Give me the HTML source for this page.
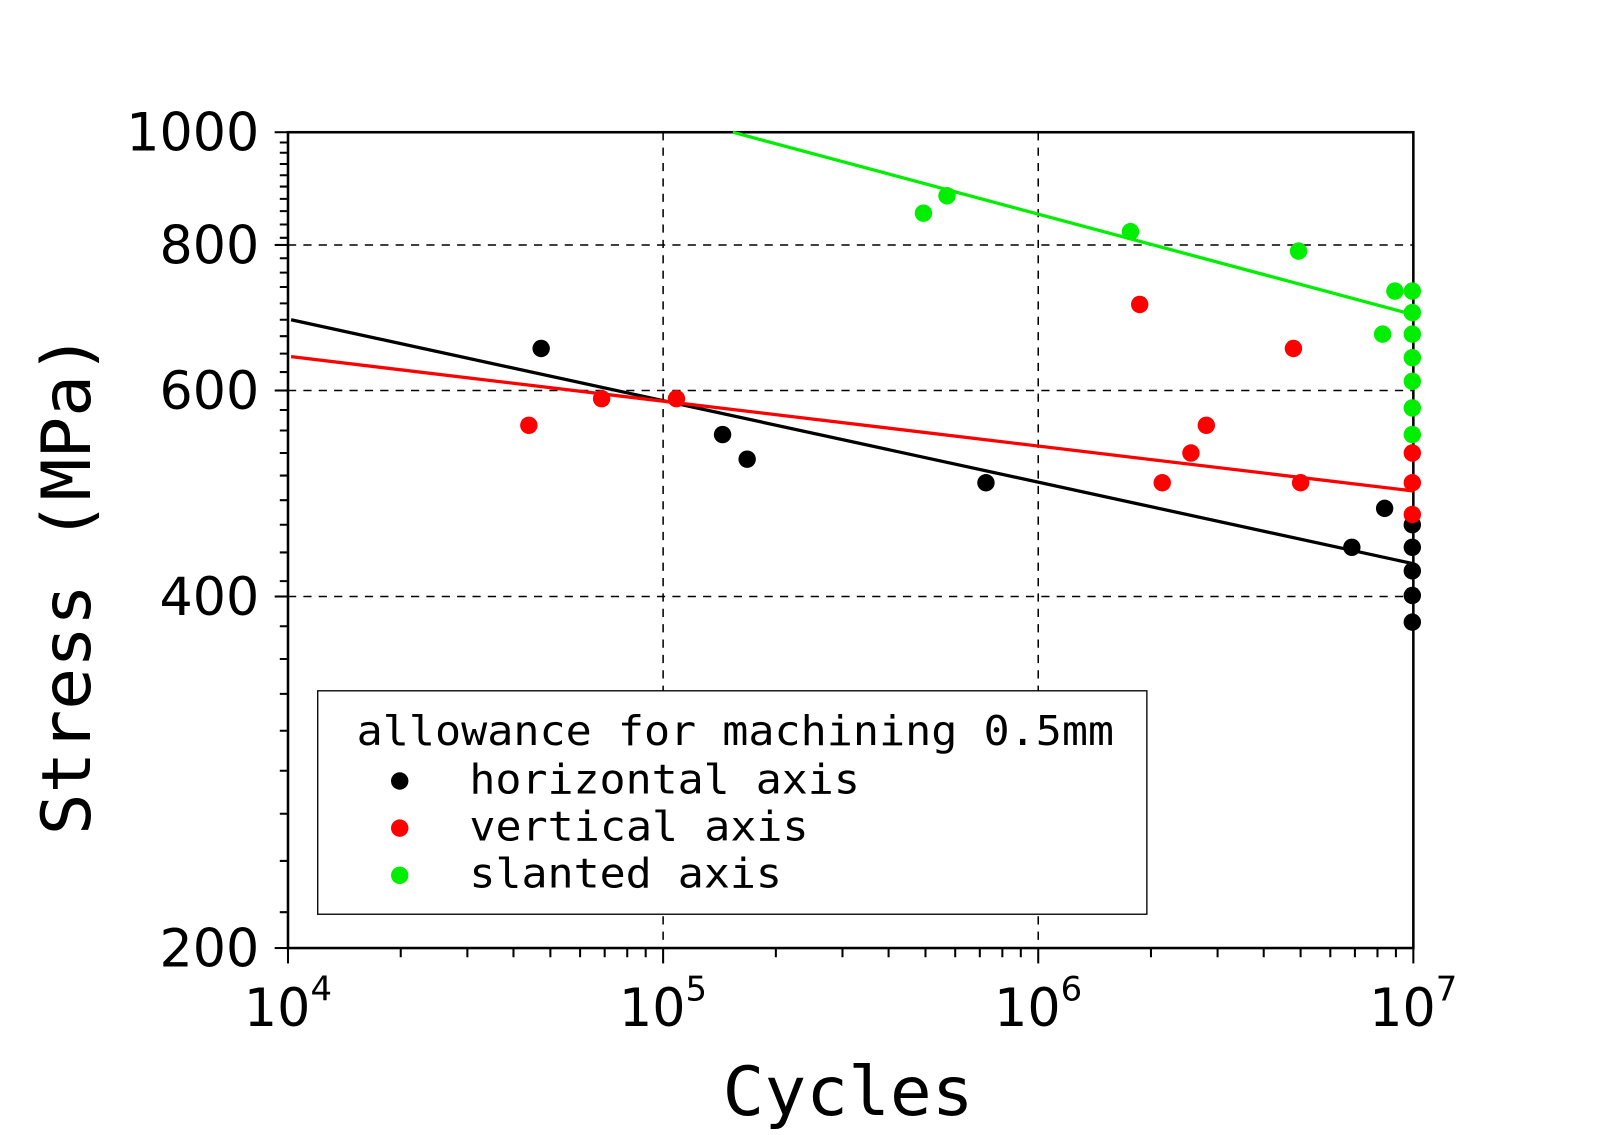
<!DOCTYPE html>
<html><head><meta charset="utf-8"><style>html,body{margin:0;padding:0;background:#fff}svg{display:block}</style></head>
<body>
<svg width="1605" height="1135" viewBox="0 0 1566 1107.4" xmlns="http://www.w3.org/2000/svg">
<rect width="1566" height="1108" fill="#fff"/>
<g stroke="#000" stroke-width="1.5" stroke-dasharray="8,7" fill="none">
<line x1="281" y1="239" x2="1379" y2="239"/>
<line x1="281" y1="381" x2="1379" y2="381"/>
<line x1="281" y1="582" x2="1379" y2="582"/>
<line x1="647" y1="129" x2="647" y2="925"/>
<line x1="1013" y1="129" x2="1013" y2="925"/>
</g>
<g stroke="#000" stroke-width="2">
<line x1="268" y1="129" x2="281" y2="129"/><line x1="268" y1="239" x2="281" y2="239"/>
<line x1="268" y1="381" x2="281" y2="381"/><line x1="268" y1="582" x2="281" y2="582"/>
<line x1="268" y1="925" x2="281" y2="925"/>
<line x1="281" y1="925" x2="281" y2="940"/><line x1="647" y1="925" x2="647" y2="940"/>
<line x1="1013" y1="925" x2="1013" y2="940"/><line x1="1379" y1="925" x2="1379" y2="940"/>
</g>
<g stroke="#000" stroke-width="2">
<path d="
M273 139H281 M273 149H281 M273 160H281 M273 171H281 M273 182H281 M273 194H281 M273 206H281 M273 219H281 M273 232H281
M273 252H281 M273 266H281 M273 280H281 M273 296H281 M273 312H281 M273 328H281 M273 345H281 M273 363H281
M273 400H281 M273 420H281 M273 442H281 M273 464H281 M273 488H281 M273 512H281 M273 539H281 M273 567H281
M273 611H281 M273 643H281 M273 677H281 M273 713H281 M273 752H281 M273 794H281 M273 840H281 M273 890H281"/>
<path d="
M391 925V934 M456 925V934 M501 925V934 M537 925V934 M566 925V934 M590 925V934 M612 925V934 M630 925V934
M757 925V934 M822 925V934 M867 925V934 M903 925V934 M932 925V934 M956 925V934 M978 925V934 M996 925V934
M1123 925V934 M1188 925V934 M1233 925V934 M1269 925V934 M1298 925V934 M1322 925V934 M1344 925V934 M1362 925V934"/>
</g>
<rect x="281" y="129" width="1098" height="796" fill="none" stroke="#000" stroke-width="2.5"/>
<line x1="284" y1="312" x2="1379" y2="550" stroke="#000" stroke-width="3.2"/>
<line x1="284" y1="348" x2="1379" y2="479" stroke="#f00" stroke-width="3.2"/>
<line x1="715" y1="129" x2="1379" y2="307" stroke="#0e0" stroke-width="3.2"/>
<g fill="#000">
<circle cx="528" cy="340" r="8.5"/><circle cx="705" cy="424" r="8.5"/><circle cx="729" cy="448" r="8.5"/><circle cx="962" cy="471" r="8.5"/><circle cx="1319" cy="534" r="8.5"/><circle cx="1351" cy="496" r="8.5"/><circle cx="1378" cy="512" r="8.5"/><circle cx="1378" cy="534" r="8.5"/><circle cx="1378" cy="557" r="8.5"/><circle cx="1378" cy="581" r="8.5"/><circle cx="1378" cy="607" r="8.5"/>
</g>
<g fill="#f00">
<circle cx="516" cy="415" r="8.5"/><circle cx="587" cy="389" r="8.5"/><circle cx="660" cy="389" r="8.5"/><circle cx="1112" cy="297" r="8.5"/><circle cx="1134" cy="471" r="8.5"/><circle cx="1162" cy="442" r="8.5"/><circle cx="1177" cy="415" r="8.5"/><circle cx="1262" cy="340" r="8.5"/><circle cx="1269" cy="471" r="8.5"/><circle cx="1378" cy="442" r="8.5"/><circle cx="1378" cy="471" r="8.5"/><circle cx="1378" cy="502" r="8.5"/>
</g>
<g fill="#0e0">
<circle cx="901" cy="208" r="8.5"/><circle cx="924" cy="191" r="8.5"/><circle cx="1103" cy="226" r="8.5"/><circle cx="1267" cy="245" r="8.5"/><circle cx="1349" cy="326" r="8.5"/><circle cx="1361" cy="284" r="8.5"/><circle cx="1378" cy="284" r="8.5"/><circle cx="1378" cy="305" r="8.5"/><circle cx="1378" cy="326" r="8.5"/><circle cx="1378" cy="349" r="8.5"/><circle cx="1378" cy="372" r="8.5"/><circle cx="1378" cy="398" r="8.5"/><circle cx="1378" cy="424" r="8.5"/>
</g>
<g font-family="'DejaVu Sans','Liberation Sans',sans-serif" font-size="51" fill="#000" text-anchor="end">
<text x="253" y="147">1000</text><text x="253" y="257">800</text><text x="253" y="399">600</text><text x="253" y="600">400</text><text x="253" y="943">200</text>
</g>
<g font-family="'DejaVu Sans','Liberation Sans',sans-serif" font-size="51" fill="#000">
<text x="238" y="1001">10<tspan font-size="33" dy="-25">4</tspan></text>
<text x="604" y="1001">10<tspan font-size="33" dy="-25">5</tspan></text>
<text x="970" y="1001">10<tspan font-size="33" dy="-25">6</tspan></text>
<text x="1336" y="1001">10<tspan font-size="33" dy="-25">7</tspan></text>
</g>
<text x="705" y="1088" font-family="'DejaVu Sans Mono','Liberation Mono',monospace" font-size="66" textLength="245" lengthAdjust="spacingAndGlyphs">Cycles</text>
<text transform="translate(88,815) rotate(-90)" font-family="'DejaVu Sans Mono','Liberation Mono',monospace" font-size="66" textLength="490" lengthAdjust="spacingAndGlyphs">Stress (MPa)</text>
<rect x="310" y="674" width="809" height="218" fill="#fff" stroke="#000" stroke-width="1.3"/>
<g font-family="'DejaVu Sans Mono','Liberation Mono',monospace" font-size="40" fill="#000">
<text x="348" y="727" textLength="739" lengthAdjust="spacingAndGlyphs">allowance for machining 0.5mm</text>
<text x="458" y="774" textLength="381" lengthAdjust="spacingAndGlyphs">horizontal axis</text>
<text x="458" y="820" textLength="331" lengthAdjust="spacingAndGlyphs">vertical axis</text>
<text x="458" y="866" textLength="305" lengthAdjust="spacingAndGlyphs">slanted axis</text>
</g>
<circle cx="390" cy="762" r="8.5" fill="#000"/>
<circle cx="390" cy="808" r="8.5" fill="#f00"/>
<circle cx="390" cy="854" r="8.5" fill="#0e0"/>
</svg>
</body></html>
